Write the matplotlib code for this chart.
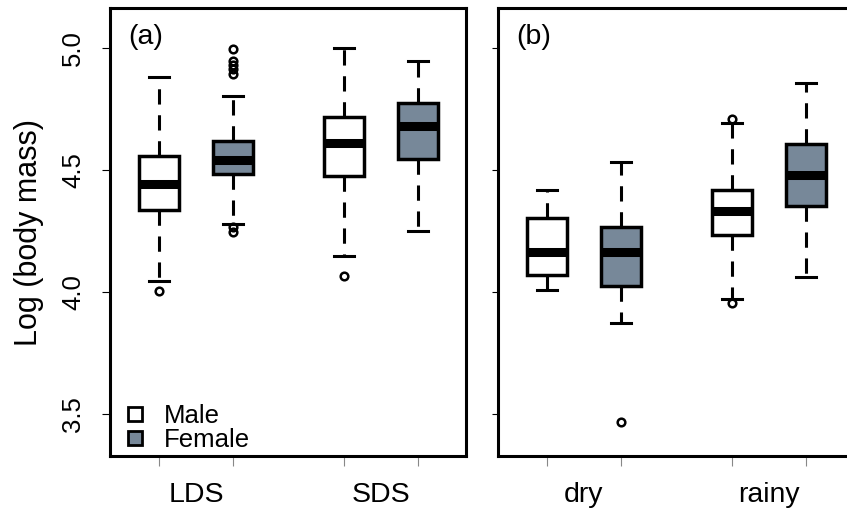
import matplotlib
matplotlib.use("Agg")
import matplotlib.pyplot as plt
from matplotlib.lines import Line2D

plt.rcParams['font.family'] = ['Liberation Sans', 'DejaVu Sans']

# ---- data ----
sexes = ["Male", "Female"]
sex_colors = ["white", "#778899"]

groups_a = ["LDS", "SDS"]
med_a = [4.443, 4.541, 4.611, 4.680]
q1_a = [4.336, 4.484, 4.475, 4.545]
q3_a = [4.557, 4.619, 4.717, 4.775]
whislo_a = [4.045, 4.279, 4.148, 4.250]
whishi_a = [4.881, 4.803, 5.000, 4.947]
fliers_a = [[4.004], [4.996, 4.945, 4.930, 4.913, 4.895, 4.265, 4.247], [4.066], []]

groups_b = ["dry", "rainy"]
med_b = [4.164, 4.164, 4.332, 4.480]
q1_b = [4.070, 4.025, 4.234, 4.352]
q3_b = [4.303, 4.266, 4.418, 4.607]
whislo_b = [4.008, 3.873, 3.971, 4.061]
whishi_b = [4.418, 4.533, 4.693, 4.857]
fliers_b = [[], [3.467], [4.709, 3.955], []]

positions = [1, 2, 3.5, 4.5]
group_centers = [1.5, 4.0]
yticks = [3.5, 4.0, 4.5, 5.0]
panel_labels = ["(a)", "(b)"]

W, H = 847, 516
fig = plt.figure(figsize=(W / 100, H / 100), dpi=100)
bottom = 1 - 456 / H
height = 448 / H
ax1 = fig.add_axes([110 / W, bottom, 356 / W, height])
ax2 = fig.add_axes([498 / W, bottom, 356 / W, height])


def draw(ax, med, q1, q3, wlo, whi, fl, groups, label, show_y):
    stats = []
    for i in range(len(med)):
        stats.append(dict(med=med[i], q1=q1[i], q3=q3[i], whislo=wlo[i],
                          whishi=whi[i], fliers=fl[i]))
    bp = ax.bxp(stats, positions=positions, widths=0.53, patch_artist=True,
                boxprops=dict(linewidth=2.5, edgecolor="black"),
                medianprops=dict(color="black", linewidth=6.5, solid_capstyle="butt"),
                whiskerprops=dict(color="black", linewidth=2.2, linestyle=(0, (5, 3.5))),
                capprops=dict(color="black", linewidth=2.2),
                flierprops=dict(marker="o", markerfacecolor="none", markeredgecolor="black",
                                markersize=5.5, markeredgewidth=1.8),
                manage_ticks=False)
    for i, b in enumerate(bp["boxes"]):
        b.set_facecolor(sex_colors[i % 2])
    ax.set_xlim(0.338, 5.149)
    ax.set_ylim(3.328, 5.164)
    ax.set_xticks(positions)
    ax.set_xticklabels([])
    ax.set_xticks(group_centers, minor=True)
    ax.set_xticklabels(groups, minor=True, fontsize=20.5)
    ax.tick_params(axis="x", which="major", length=7, width=0.8, color="#888888")
    ax.tick_params(axis="x", which="minor", length=0, pad=19)
    ax.set_yticks(yticks)
    if show_y:
        ax.set_yticklabels([f"{v:.1f}" for v in yticks], fontsize=18.5)
        ax.tick_params(axis="y", length=6, width=0.8, labelrotation=90, pad=12)
        for t in ax.get_yticklabels():
            t.set_va("center")
    else:
        ax.set_yticklabels([])
        ax.tick_params(axis="y", length=4.5, width=0.8)
    for s in ax.spines.values():
        s.set_linewidth(2.2)
    ax.text(0.05, 0.935, label, transform=ax.transAxes, fontsize=20.5,
            ha="left", va="center")


draw(ax1, med_a, q1_a, q3_a, whislo_a, whishi_a, fliers_a, groups_a, panel_labels[0], True)
draw(ax2, med_b, q1_b, q3_b, whislo_b, whishi_b, fliers_b, groups_b, panel_labels[1], False)

ax1.set_ylabel("Log (body mass)", fontsize=22, labelpad=12)

handles = [Line2D([], [], linestyle="none", marker="s", markersize=10.5,
                  markerfacecolor=c, markeredgecolor="black", markeredgewidth=2.0)
           for c in sex_colors]
ax1.legend(handles, sexes, loc="lower left", bbox_to_anchor=(0.034, 0.008),
           frameon=False, fontsize=18.5, handlelength=1.0, handletextpad=0.62,
           labelspacing=0.0, borderpad=0, borderaxespad=0)

fig.savefig("out.png", dpi=100)
